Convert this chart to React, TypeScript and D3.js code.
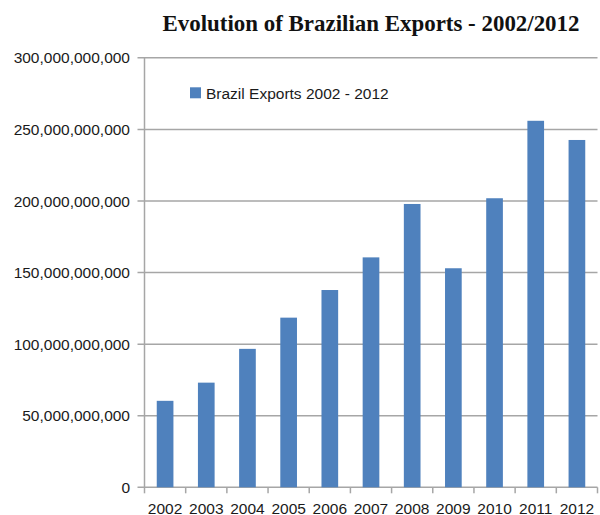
import React from "react";
import * as d3 from "d3";

const years = ["2002", "2003", "2004", "2005", "2006", "2007", "2008", "2009", "2010", "2011", "2012"];
const exportsBillions = [60.4, 73.1, 96.7, 118.5, 137.8, 160.6, 197.9, 153.0, 201.9, 256.0, 242.6];
const yTicks = [0, 50e9, 100e9, 150e9, 200e9, 250e9, 300e9];
const title = "Evolution of Brazilian Exports - 2002/2012";
const legendLabel = "Brazil Exports 2002 - 2012";

const W = 600;
const H = 515;
const left = 144.5;
const right = 597.5;
const top = 57.8;
const bottom = 487.3;
const barColor = "#4f81bd";
const gridColor = "#a6a6a6";
const font = "'Liberation Sans', Arial, sans-serif";

export default function App() {
  const x = d3.scaleBand<string>().domain(years).range([left, right]).padding(0);
  const y = d3.scaleLinear().domain([0, 300e9]).range([bottom, top]);
  const bw = x.bandwidth() * 0.405;
  const fmt = d3.format(",");

  return (
    <svg width={W} height={H} style={{ position: "absolute", left: 0, top: 0, background: "#fff" }}>
      <rect x={0} y={0} width={W} height={H} fill="#fff" />
      <text
        x={371}
        y={30.7}
        textAnchor="middle"
        fontFamily="'Liberation Serif', 'Times New Roman', serif"
        fontWeight="bold"
        fontSize={24}
        textLength={417}
        lengthAdjust="spacingAndGlyphs"
        fill="#111"
      >
        {title}
      </text>

      {yTicks.map((t) => (
        <g key={t}>
          <line x1={left - 7} x2={right} y1={y(t)} y2={y(t)} stroke={gridColor} strokeWidth={1.5} />
          <text
            x={130}
            y={y(t)}
            dy="0.36em"
            textAnchor="end"
            fontFamily={font}
            fontSize={15.5}
            fill="#1a1a1a"
          >
            {fmt(t)}
          </text>
        </g>
      ))}

      <line x1={left} x2={left} y1={top} y2={bottom} stroke={gridColor} strokeWidth={1.5} />

      {years.map((yr, i) => (
        <rect
          key={yr}
          x={(x(yr) as number) + (x.bandwidth() - bw) / 2}
          y={y(exportsBillions[i] * 1e9)}
          width={bw}
          height={bottom - y(exportsBillions[i] * 1e9)}
          fill={barColor}
        />
      ))}

      {years.map((yr) => (
        <line
          key={"t" + yr}
          x1={x(yr) as number}
          x2={x(yr) as number}
          y1={bottom}
          y2={bottom + 6}
          stroke={gridColor}
          strokeWidth={1.5}
        />
      ))}
      <line x1={right} x2={right} y1={bottom} y2={bottom + 6} stroke={gridColor} strokeWidth={1.5} />

      {years.map((yr) => (
        <text
          key={"l" + yr}
          x={(x(yr) as number) + x.bandwidth() / 2}
          y={513.5}
          textAnchor="middle"
          fontFamily={font}
          fontSize={15.5}
          fill="#1a1a1a"
        >
          {yr}
        </text>
      ))}

      <rect x={190} y={87.3} width={11} height={11} fill={barColor} />
      <text x={206} y={98.5} fontFamily={font} fontSize={15.5} fill="#1a1a1a">
        {legendLabel}
      </text>
    </svg>
  );
}
